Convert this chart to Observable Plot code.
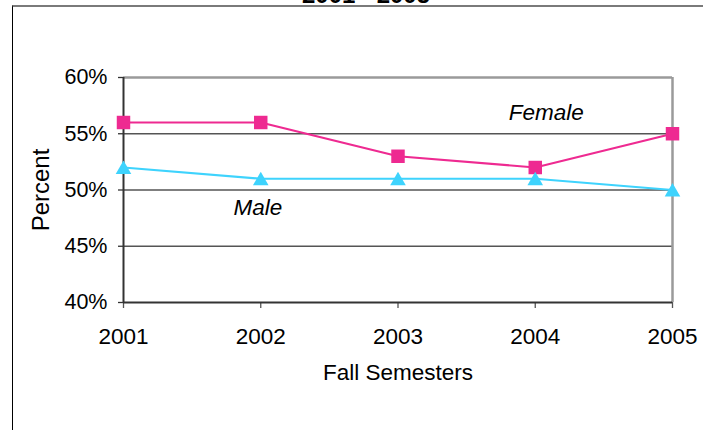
<!DOCTYPE html>
<html><head><meta charset="utf-8">
<script src="https://cdn.jsdelivr.net/npm/d3@7"></script>
<script src="https://cdn.jsdelivr.net/npm/@observablehq/plot@0.6"></script>
<style>
html,body{margin:0;padding:0;background:#fff;overflow:hidden;}
#wrap{position:relative;width:703px;height:430px;overflow:hidden;font-family:"Liberation Sans",Arial,sans-serif;}
#border{position:absolute;left:12px;top:5px;right:-10px;bottom:-10px;border-top:2px solid #7a7a7a;border-left:1px solid #000;}
#title{position:absolute;left:0;width:732px;text-align:center;top:-17px;font:bold 24px/24px "Liberation Sans",Arial,sans-serif;color:#000;}
#chart{position:absolute;left:0;top:0;}
</style></head>
<body><div id="wrap"><div id="title">2001 - 2005</div><div id="border"></div><div id="chart"></div></div>
<script>
const years = [2001, 2002, 2003, 2004, 2005];
const female = [56, 56, 53, 52, 55];
const male = [52, 51, 51, 51, 50];
const yTicks = [40, 45, 50, 55, 60];
const seriesNames = ["Female", "Male"];
const xLabel = "Fall Semesters";
const yLabel = "Percent";

const femaleData = years.map((y, i) => ({year: y, value: female[i]}));
const maleData = years.map((y, i) => ({year: y, value: male[i]}));
// annotation anchors (in data units)
const labelPos = [{name: seriesNames[0], year: 2004.08, value: 56.2}, {name: seriesNames[1], year: 2001.98, value: 47.8}];

const pink = "#ee2a91", cyan = "#3ed3fd";

const chart = Plot.plot({
  width: 703, height: 430,
  marginLeft: 123, marginRight: 31, marginTop: 77, marginBottom: 128,
  style: {fontFamily: "'Liberation Sans', Arial, sans-serif", fontSize: "21.5px", background: "transparent", color: "#000", overflow: "visible"},
  x: {domain: [2001, 2005]},
  y: {domain: [40, 60]},
  marks: [
    Plot.ruleY(yTicks.filter(d => d > 40 && d < 60), {stroke: "#555", strokeWidth: 1.3}),
    Plot.ruleY([60], {stroke: "#9a9a9a", strokeWidth: 2.5}),
    Plot.ruleX([2005], {stroke: "#9a9a9a", strokeWidth: 2.5}),
    Plot.axisY({ticks: yTicks, tickFormat: d => d + "%", tickSize: 5, tickPadding: 11, stroke: "#333", strokeWidth: 1.3, label: null, fill: "#000", fontSize: 21.5}),
    Plot.axisX({ticks: years, tickFormat: d => String(d), tickSize: 6, tickPadding: 20, stroke: "#555", strokeWidth: 1.3, label: null, fill: "#000", fontSize: 22.5}),
    Plot.ruleX([2001], {stroke: "#333", strokeWidth: 2}),
    Plot.ruleY([40], {stroke: "#333", strokeWidth: 2}),
    Plot.text([yLabel], {frameAnchor: "left", dx: -82, rotate: -90, textAnchor: "middle", fill: "#000", fontSize: 24}),
    Plot.text([xLabel], {frameAnchor: "bottom", dy: 77, textAnchor: "middle", fill: "#000", fontSize: 22.5}),
    Plot.line(femaleData, {x: "year", y: "value", stroke: pink, strokeWidth: 2.2}),
    Plot.line(maleData, {x: "year", y: "value", stroke: cyan, strokeWidth: 2.2}),
    Plot.dot(femaleData, {x: "year", y: "value", symbol: "square", r: 7.6, fill: pink, stroke: "none"}),
    Plot.dot(maleData, {x: "year", y: "value", symbol: "triangle", r: 5.8, fill: cyan, stroke: "none", dy: 2}),
    Plot.text(labelPos, {x: "year", y: "value", text: "name", fontStyle: "italic", textAnchor: "middle", lineAnchor: "bottom", fill: "#000", fontSize: 22.5})
  ]
});
document.getElementById("chart").appendChild(chart);
</script>
</body></html>
